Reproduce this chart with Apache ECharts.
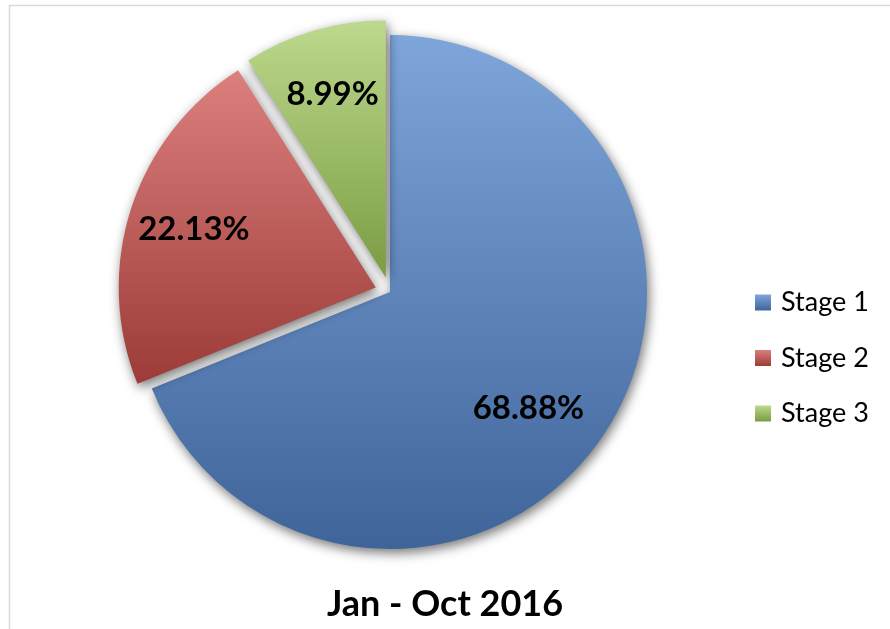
<!DOCTYPE html>
<html>
<head>
<meta charset="utf-8">
<style>
  html, body { margin: 0; padding: 0; background: #ffffff; }
  #chart { width: 890px; height: 629px; }
</style>
<script src="https://cdn.jsdelivr.net/npm/echarts@6/dist/echarts.min.js"></script>
</head>
<body>
<div id="chart"></div>
<script>
const categories = ['Stage 1', 'Stage 2', 'Stage 3'];
const values = [68.88, 22.13, 8.99];
const exploded = [false, true, true];
const titleText = 'Jan - Oct 2016';

// style: small nudges of the data labels from their library-computed spot
const labelNudges = [[-20, 10], [11, 4], [-9, -10]];

const gradients = [
  ['#7EA6DB', '#3F6499'],
  ['#DC807D', '#9C3B38'],
  ['#BDD98D', '#7A9C42']
];
function grad(c) {
  return new echarts.graphic.LinearGradient(0, 0, 0, 1, [
    { offset: 0, color: c[0] },
    { offset: 1, color: c[1] }
  ]);
}

const FONT = 'Lato';
const center = [390, 292];
const R = 257;

const mainData = categories.map((name, i) => ({
  name: name,
  value: values[i],
  selected: exploded[i],
  itemStyle: { color: grad(gradients[i]) }
}));
const labelData = categories.map((name, i) => ({
  name: name,
  value: values[i],
  selected: exploded[i],
  label: { offset: labelNudges[i] }
}));

const chart = echarts.init(document.getElementById('chart'), null, { renderer: 'canvas' });
chart.setOption({
  animation: false,
  backgroundColor: '#ffffff',
  graphic: [{
    type: 'rect',
    shape: { x: 9.5, y: 5.5, width: 900, height: 700 },
    style: { fill: 'none', stroke: '#d9d9d9', lineWidth: 1.5 },
    silent: true,
    z: -10
  }],
  title: {
    text: titleText,
    left: 'center',
    top: 581,
    textStyle: { fontFamily: FONT, fontWeight: 'bold', fontSize: 36, color: '#000000' }
  },
  legend: {
    data: categories,
    orient: 'vertical',
    left: 755,
    top: 289,
    padding: 0,
    itemWidth: 16,
    itemHeight: 16,
    itemGap: 28.5,
    icon: 'rect',
    selectedMode: false,
    textStyle: { fontFamily: FONT, fontSize: 27, color: '#000000', lineHeight: 26, padding: [0, 0, 0, 5] }
  },
  series: [
    {
      type: 'pie',
      name: 'main',
      center: center,
      radius: [0, R],
      startAngle: 90,
      clockwise: true,
      selectedMode: 'multiple',
      selectedOffset: 15,
      avoidLabelOverlap: false,
      label: { show: false },
      labelLine: { show: false },
      emphasis: { disabled: true },
      itemStyle: {
        shadowBlur: 12,
        shadowOffsetX: 2,
        shadowOffsetY: 4,
        shadowColor: 'rgba(0,0,0,0.55)'
      },
      data: mainData
    },
    {
      type: 'pie',
      name: 'labels',
      center: center,
      radius: [0, 2 * 188],
      startAngle: 90,
      clockwise: true,
      selectedMode: 'multiple',
      selectedOffset: 15,
      silent: true,
      avoidLabelOverlap: false,
      itemStyle: { color: 'rgba(0,0,0,0)' },
      emphasis: { disabled: true },
      labelLine: { show: false },
      label: {
        show: true,
        position: 'inside',
        formatter: p => p.value.toFixed(2) + '%',
        fontFamily: FONT,
        fontWeight: 'bold',
        fontSize: 33,
        color: '#000000'
      },
      z: 5,
      data: labelData
    }
  ]
});
</script>
</body>
</html>
